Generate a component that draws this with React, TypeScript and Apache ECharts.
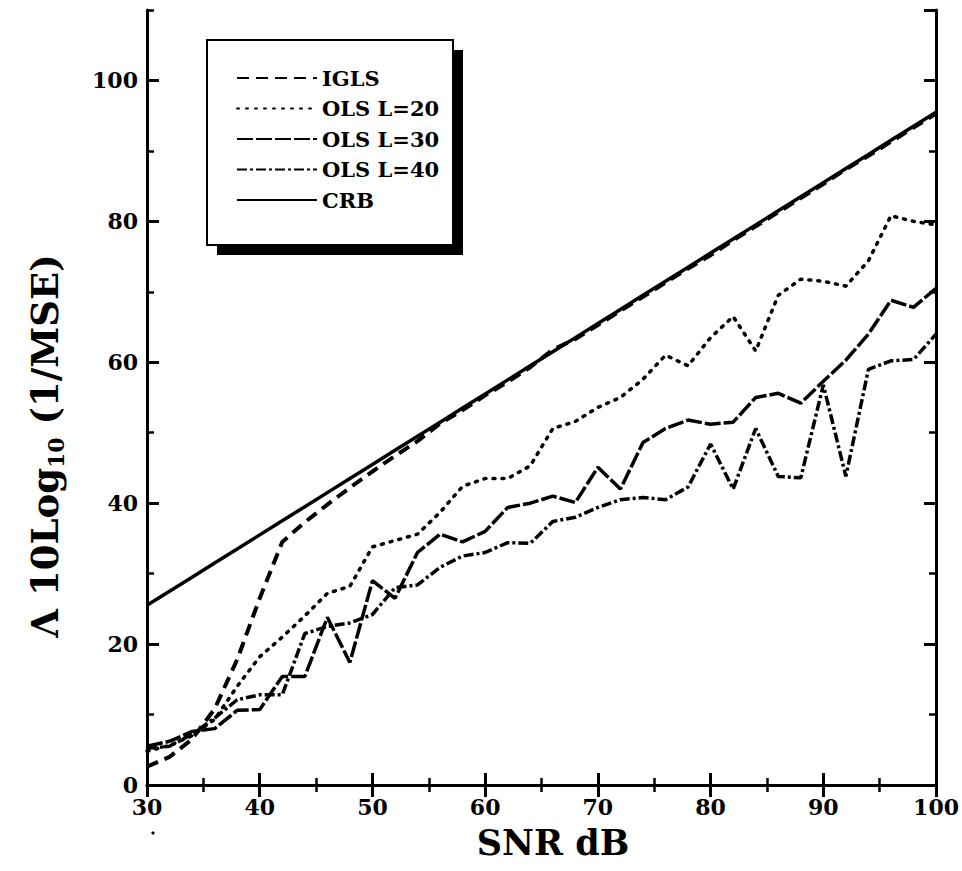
import React, { useEffect, useRef } from "react";
import * as echarts from "echarts";

const snr = [30, 32, 34, 36, 38, 40, 42, 44, 46, 48, 50, 52, 54, 56, 58, 60, 62, 64, 66, 68, 70, 72, 74, 76, 78, 80, 82, 84, 86, 88, 90, 92, 94, 96, 98, 100];

const igls = [2.6, 4.0, 6.5, 10.8, 17.8, 26.5, 34.5, 37.3, 39.8, 42.2, 44.5, 46.7, 48.8, 51.3, 53.2, 55.3, 57.2, 59.3, 61.8, 63.3, 65.3, 67.3, 69.3, 71.3, 73.3, 75.2, 77.3, 79.3, 81.3, 83.3, 85.3, 87.4, 89.3, 91.3, 93.3, 95.3];

const olsL20 = [4.8, 5.6, 7.0, 9.3, 14.0, 18.2, 21.0, 24.0, 27.2, 28.2, 33.8, 34.7, 35.6, 38.7, 42.4, 43.5, 43.5, 45.3, 50.6, 51.6, 53.6, 55.0, 57.6, 61.0, 59.5, 63.5, 66.5, 61.6, 69.5, 71.8, 71.5, 70.8, 74.4, 80.8, 80.0, 79.5];

const olsL30 = [5.5, 6.2, 7.6, 8.0, 10.6, 10.7, 15.4, 15.4, 23.8, 17.4, 29.0, 26.5, 33.0, 35.6, 34.5, 36.0, 39.4, 40.0, 41.0, 40.1, 45.1, 42.0, 48.6, 50.6, 51.8, 51.2, 51.5, 55.0, 55.6, 54.2, 57.3, 60.3, 64.0, 68.8, 67.8, 70.5];

const olsL40 = [5.2, 5.5, 7.2, 9.5, 12.1, 12.8, 12.8, 21.5, 22.5, 23.0, 24.2, 28.0, 28.4, 30.9, 32.5, 33.0, 34.4, 34.3, 37.4, 38.0, 39.4, 40.5, 40.8, 40.5, 42.3, 48.4, 42.0, 50.6, 43.8, 43.6, 56.8, 43.8, 59.0, 60.2, 60.4, 64.0];

const crb = [25.5, 27.5, 29.5, 31.5, 33.5, 35.5, 37.5, 39.5, 41.5, 43.5, 45.5, 47.5, 49.5, 51.5, 53.5, 55.5, 57.5, 59.5, 61.5, 63.5, 65.5, 67.5, 69.5, 71.5, 73.5, 75.5, 77.5, 79.5, 81.5, 83.5, 85.5, 87.5, 89.5, 91.5, 93.5, 95.5];

const seriesNames = ["IGLS", "OLS L=20", "OLS L=30", "OLS L=40", "CRB"];
const xTitle = "SNR dB";

const FONT = "'DejaVu Serif', 'Liberation Serif', serif";

export default function App() {
  const ref = useRef<HTMLDivElement>(null);

  useEffect(() => {
    if (!ref.current) return;
    const chart = echarts.init(ref.current, null, { renderer: "svg" });
    const pair = (arr: number[]) => snr.map((x, i) => [x, arr[i]]);

    const axisLine = { show: true, lineStyle: { color: "#000", width: 3 } };
    const majorTick = { show: true, inside: true, length: 12, lineStyle: { color: "#000", width: 3 } };
    const minorTickX = { show: true, splitNumber: 2, length: 7, lineStyle: { color: "#000", width: 2.5 } };
    const label = {
      color: "#000",
      fontFamily: FONT,
      fontWeight: "bold" as const,
      fontSize: 22,
      lineHeight: 22,
    };

    const mkX = (pos: "bottom" | "top", showLabel: boolean) => ({
      type: "value" as const,
      position: pos,
      min: 30,
      max: 100,
      interval: 10,
      axisLine,
      axisTick: majorTick,
      minorTick: minorTickX,
      splitLine: { show: false },
      minorSplitLine: { show: false },
      axisLabel: showLabel ? { ...label, margin: 11 } : { show: false },
    });

    const mkYMajor = (pos: "left" | "right", showLabel: boolean) => ({
      type: "value" as const,
      position: pos,
      min: 0,
      max: 110,
      interval: 20,
      axisLine,
      axisTick: majorTick,
      splitLine: { show: false },
      axisLabel: showLabel ? { ...label, margin: 9, showMaxLabel: false } : { show: false },
    });
    const mkYMinor = (pos: "left" | "right") => ({
      type: "value" as const,
      position: pos,
      min: 0,
      max: 110,
      interval: 10,
      axisLine: { show: false },
      axisTick: { show: true, inside: true, length: 7, lineStyle: { color: "#000", width: 2.5 } },
      splitLine: { show: false },
      axisLabel: { show: false },
    });

    const option: any = {
      animation: false,
      backgroundColor: "#fff",
      grid: { left: 147, right: 25, top: 10, bottom: 86, containLabel: false },
      xAxis: [mkX("bottom", true), mkX("top", false)],
      yAxis: [mkYMajor("left", true), mkYMajor("right", false), mkYMinor("left"), mkYMinor("right")],
      legend: {
        orient: "vertical",
        left: 231,
        top: 62,
        itemWidth: 80,
        itemHeight: 22,
        itemGap: 8.5,
        z: 10,
        selectedMode: false,
        data: seriesNames,
        itemStyle: { opacity: 0 },
        textStyle: { color: "#000", fontFamily: FONT, fontWeight: "bold", fontSize: 21, lineHeight: 22 },
      },
      graphic: [
        { type: "rect", z: 5, shape: { x: 217, y: 50, width: 246, height: 205 }, style: { fill: "#000" } },
        { type: "rect", z: 6, shape: { x: 207, y: 40, width: 246, height: 205 }, style: { fill: "#fff", stroke: "#000", lineWidth: 2 } },
        {
          type: "text",
          x: 45,
          y: 446,
          rotation: Math.PI / 2,
          style: {
            text: "{n|Λ 10Log}{s|10}{n| (1/MSE)}",
            align: "center",
            verticalAlign: "middle",
            fill: "#000",
            rich: {
              n: { fontFamily: FONT, fontWeight: "bold", fontSize: 37, lineHeight: 44, fill: "#000" },
              s: { fontFamily: FONT, fontWeight: "bold", fontSize: 22, lineHeight: 44, verticalAlign: "bottom", fill: "#000" },
            },
          },
        },
        {
          type: "text",
          x: 553,
          y: 842,
          style: {
            text: xTitle,
            align: "center",
            verticalAlign: "middle",
            fill: "#000",
            fontFamily: FONT,
            fontWeight: "bold",
            fontSize: 35,
            lineHeight: 35,
          },
        },
        { type: "circle", shape: { cx: 153, cy: 833, r: 1.6 }, style: { fill: "#000" } },
      ],
      series: [
        {
          name: "IGLS",
          type: "line",
          data: pair(igls),
          symbol: "none",
          z: 3,
          lineStyle: { color: "#000", width: 4, type: [12, 7] },
          itemStyle: { color: "#000" },
        },
        {
          name: "OLS L=20",
          type: "line",
          data: pair(olsL20),
          symbol: "none",
          lineStyle: { color: "#000", width: 3.5, type: [2, 7], cap: "round" },
          itemStyle: { color: "#000" },
        },
        {
          name: "OLS L=30",
          type: "line",
          data: pair(olsL30),
          symbol: "none",
          lineStyle: { color: "#000", width: 3.5, type: [16, 3] },
          itemStyle: { color: "#000" },
        },
        {
          name: "OLS L=40",
          type: "line",
          data: pair(olsL40),
          symbol: "none",
          lineStyle: { color: "#000", width: 3.5, type: [10, 3, 3, 3] },
          itemStyle: { color: "#000" },
        },
        {
          name: "CRB",
          type: "line",
          data: pair(crb),
          symbol: "none",
          lineStyle: { color: "#000", width: 3.5, type: "solid" },
          itemStyle: { color: "#000" },
        },
      ],
    };
    chart.setOption(option);
    return () => chart.dispose();
  }, []);

  return (
    <div
      ref={ref}
      style={{ position: "fixed", left: 0, top: 0, width: 962, height: 871, background: "#fff" }}
    />
  );
}
